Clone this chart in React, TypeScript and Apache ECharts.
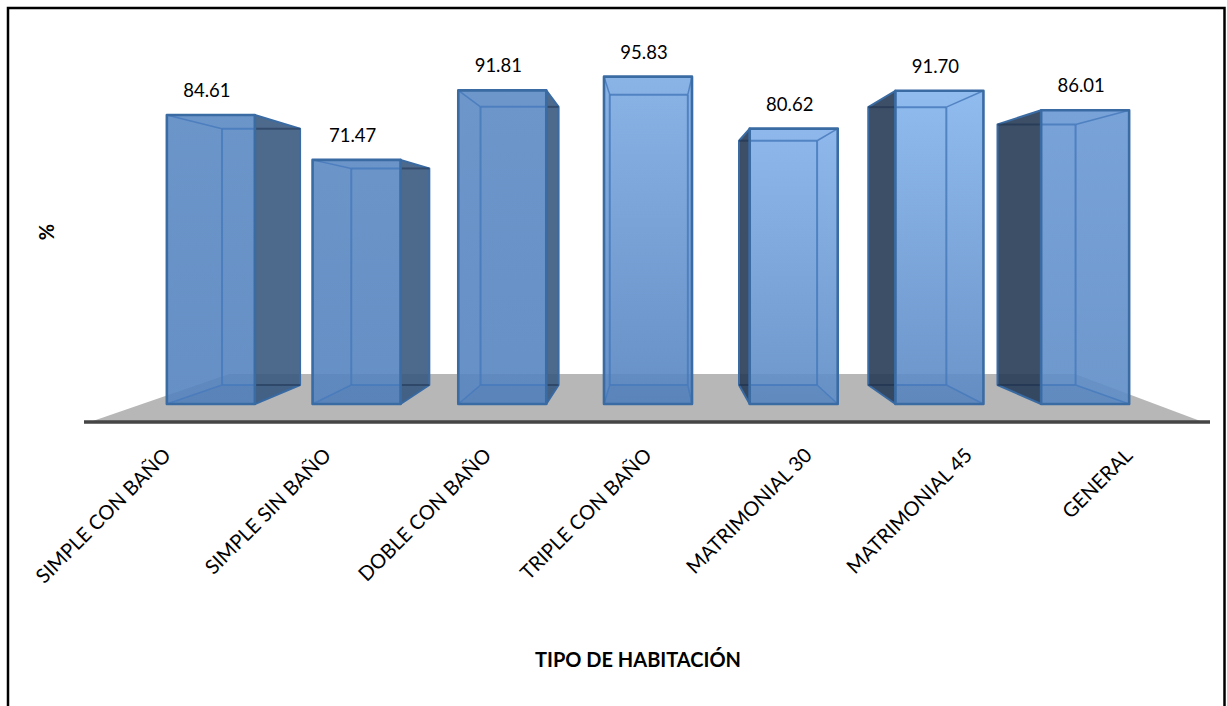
import React, { useEffect, useRef } from "react";
import * as echarts from "echarts";

const categories = [
  "SIMPLE CON BAÑO",
  "SIMPLE SIN BAÑO",
  "DOBLE CON BAÑO",
  "TRIPLE CON BAÑO",
  "MATRIMONIAL 30",
  "MATRIMONIAL 45",
  "GENERAL",
];
const values = [84.61, 71.47, 91.81, 95.83, 80.62, 91.7, 86.01];

// Front-face gradient per bar: top colour, bottom colour.
const topColors = ["#5b8ac4", "#5b89c3", "#5d8bc5", "#7dabe3", "#82b0ea", "#84b4ed", "#6998d4"];
const bottomColors = ["#5584bf", "#5584bf", "#5584c0", "#5584c0", "#5d8cc6", "#5b89c4", "#5e8dc7"];

const FONT = "Lato, 'Open Sans', sans-serif";
const DEPTH = 0.887; // scale of the rear face towards the vanishing point
const VANISH_X = 655;
const VANISH_Y = 236;

const toBack = (p: number[]) => [
  VANISH_X + (p[0] - VANISH_X) * DEPTH,
  VANISH_Y + (p[1] - VANISH_Y) * DEPTH,
];

const poly = (points: number[][], fill: any, stroke?: string, lineWidth = 0) => ({
  type: "polygon",
  shape: { points },
  style: { fill, stroke: stroke ?? "none", lineWidth, lineJoin: "round" },
});

const seg = (a: number[], b: number[], stroke: string, lineWidth: number) => ({
  type: "line",
  shape: { x1: a[0], y1: a[1], x2: b[0], y2: b[1] },
  style: { stroke, lineWidth },
});

function renderFloor(params: any, api: any) {
  const cs = params.coordSys;
  const y0 = api.coord([0, 0])[1];
  const left = cs.x;
  const right = cs.x + cs.width;
  const front = y0 + 18;
  const back = y0 - 30;
  return {
    type: "group",
    children: [
      poly(
        [
          [left - 48, front],
          [right + 45, front],
          [right - 83, back],
          [left + 91, back],
        ],
        "#b7b7b7",
      ),
      seg([left - 54, front], [right + 52, front], "#454545", 3.6),
    ],
  };
}

function renderPrism(params: any, api: any) {
  const i = api.value(0);
  const v = api.value(1);
  const center = api.coord([i, 0])[0];
  const half = api.size([1, 0])[0] * 0.302;
  const yTop = api.coord([i, v])[1];
  const yBase = api.coord([i, 0])[1];

  const fl = center - half;
  const fr = center + half;
  const ftl = [fl, yTop];
  const ftr = [fr, yTop];
  const fbl = [fl, yBase];
  const fbr = [fr, yBase];
  const btl = toBack(ftl);
  const btr = toBack(ftr);
  const bbl = toBack(fbl);
  const bbr = toBack(fbr);

  const edge = "#3a6ba3";
  const inner = "rgba(72,122,188,0.85)";
  const sideRule = "rgba(20,40,70,0.45)";
  const children: any[] = [];

  if (btr[0] > fr) {
    children.push(
      poly([ftr, btr, bbr, fbr], "rgba(58,90,127,0.9)", edge, 2),
      seg([fr, btr[1]], btr, sideRule, 2),
      seg([fr, bbr[1]], bbr, sideRule, 2),
    );
  }
  if (btl[0] < fl) {
    children.push(
      poly([ftl, btl, bbl, fbl], "rgba(40,60,87,0.9)", edge, 2),
      seg(btl, [fl, btl[1]], sideRule, 2),
      seg(bbl, [fl, bbl[1]], sideRule, 2),
    );
  }

  // Rear-face rules are only drawn where they show through the front face.
  const innerLeft = Math.max(btl[0], fl);
  const innerRight = Math.min(btr[0], fr);

  children.push(
    poly([ftl, ftr, fbr, fbl], {
      type: "linear",
      x: 0,
      y: 0,
      x2: 0,
      y2: 1,
      colorStops: [
        { offset: 0, color: echarts.color.modifyAlpha(topColors[i], 0.9) },
        { offset: 1, color: echarts.color.modifyAlpha(bottomColors[i], 0.9) },
      ],
    }),
    poly([fbl, fbr, bbr, bbl], "rgba(40,80,130,0.08)"),
    seg([innerLeft, btl[1]], [innerRight, btr[1]], inner, 2),
    seg([innerLeft, bbl[1]], [innerRight, bbr[1]], inner, 2),
  );
  if (btl[0] >= fl) {
    children.push(seg(btl, bbl, inner, 2), seg(ftl, btl, inner, 1.5), seg(fbl, bbl, inner, 1.5));
  }
  if (btr[0] <= fr) {
    children.push(seg(btr, bbr, inner, 2), seg(ftr, btr, inner, 1.5), seg(fbr, bbr, inner, 1.5));
  }
  children.push(
    poly([ftl, ftr, fbr, fbl], "none", edge, 2.6),
    {
      type: "text",
      x: center - 4,
      y: yTop - 25,
      style: {
        text: v.toFixed(2),
        font: `18.5px ${FONT}`,
        fill: "#000",
        align: "center",
        verticalAlign: "middle",
      },
    },
    {
      // Rotated category label, pushed outwards along the floor's perspective.
      type: "text",
      x: VANISH_X + (center - VANISH_X) * 1.1,
      y: yBase + 47,
      rotation: Math.PI / 4,
      style: {
        text: categories[i],
        font: `20px ${FONT}`,
        fill: "#000",
        align: "right",
        verticalAlign: "middle",
      },
    },
  );

  return { type: "group", children };
}

export default function App() {
  const ref = useRef<HTMLDivElement>(null);

  useEffect(() => {
    document.body.style.margin = "0";
    const chart = echarts.init(ref.current!, null, { renderer: "svg" });
    chart.setOption({
      animation: false,
      backgroundColor: "#fff",
      grid: { left: 138, top: 62.4, width: 1020, height: 341.6 },
      xAxis: {
        type: "category",
        data: categories,
        axisLine: { show: false },
        axisTick: { show: false },
        axisLabel: { show: false },
      },
      yAxis: {
        type: "value",
        min: 0,
        max: 100,
        show: false,
      },
      graphic: [
        {
          type: "polyline",
          shape: {
            points: [
              [8, 716],
              [8, 8],
              [1224.5, 8],
              [1224.5, 716],
            ],
          },
          style: { stroke: "#000", lineWidth: 2.5, fill: "none" },
          silent: true,
        },
        {
          type: "text",
          x: 638,
          y: 659,
          style: {
            text: "TIPO DE HABITACIÓN",
            font: `bold 20px ${FONT}`,
            fill: "#000",
            align: "center",
            verticalAlign: "middle",
          },
        },
        {
          type: "text",
          x: 46,
          y: 232,
          rotation: Math.PI / 2,
          style: {
            text: "%",
            font: `bold 20px ${FONT}`,
            fill: "#000",
            align: "center",
            verticalAlign: "middle",
          },
        },
      ],
      series: [
        {
          type: "custom",
          silent: true,
          clip: false,
          z: 1,
          data: [[0, 0]],
          renderItem: renderFloor,
        },
        {
          type: "custom",
          silent: true,
          clip: false,
          z: 2,
          encode: { x: 0, y: 1 },
          data: values.map((v, i) => [i, v]),
          renderItem: renderPrism,
        },
      ],
    });
    return () => chart.dispose();
  }, []);

  return <div ref={ref} style={{ width: 1227, height: 706 }} />;
}
